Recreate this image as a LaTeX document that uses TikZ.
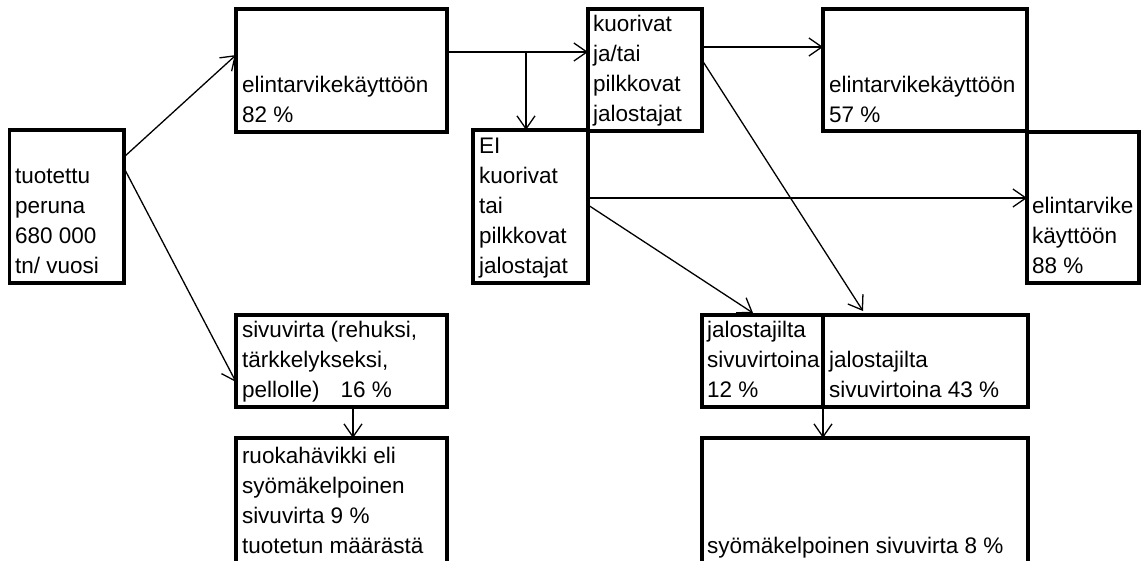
\documentclass[tikz,border=0pt]{standalone}
\usepackage{fontspec}
\setmainfont{Liberation Sans}
\usetikzlibrary{arrows.meta,calc}
\newcommand{\mltext}[1]{\begin{tabular}[t]{@{}l@{}}#1\end{tabular}}
\begin{document}
\begin{tikzpicture}[x=1pt,y=-1pt,
  font=\fontsize{22.5}{30}\selectfont,
  box/.style={draw, line width=3.8pt, inner sep=0pt, outer sep=0pt, anchor=north west},
  txt/.style={inner sep=0pt, outer sep=0pt, anchor=base west},
  arr/.style={line width=1.3pt, -{Straight Barb[length=13pt,width=18pt,line width=1.3pt]}}]
\useasboundingbox (0,0) rectangle (1142,560);
\clip (0,0) rectangle (1142,560);
% boxes
\node[box, minimum width=114.5pt, minimum height=153pt] (A) at (9.5,130) {};
\node[box, minimum width=211pt, minimum height=123pt] (B) at (236,9) {};
\node[box, minimum width=114pt, minimum height=122pt] (C) at (588,9) {};
\node[box, minimum width=115pt, minimum height=153pt] (D) at (473,130) {};
\node[box, minimum width=204pt, minimum height=122pt] (E) at (823,9) {};
\node[box, minimum width=112pt, minimum height=151pt] (F) at (1027,132) {};
\node[box, minimum width=211pt, minimum height=92pt] (G) at (236,315) {};
\node[box, minimum width=211pt, minimum height=200pt] (H) at (236,438) {};
\node[box, minimum width=121pt, minimum height=92pt] (I) at (702,315) {};
\node[box, minimum width=205pt, minimum height=92pt] (J) at (823,315) {};
\node[box, minimum width=326pt, minimum height=200pt] (K) at (702,438) {};
% texts
\node[txt] (tA) at ($(A.north west)+(5.5,53)$) {\mltext{tuotettu\\peruna\\680 000\\tn/ vuosi}};
\node[txt] (tB) at ($(B.north west)+(6,83)$) {\mltext{elintarvikekäyttöön\\82 \%}};
\node[txt] (tC) at ($(C.north west)+(5,22)$) {\mltext{kuorivat\\ja/tai\\pilkkovat\\jalostajat}};
\node[txt] (tD) at ($(D.north west)+(6,23)$) {\mltext{EI\\kuorivat\\tai\\pilkkovat\\jalostajat}};
\node[txt] (tE) at ($(E.north west)+(6,83)$) {\mltext{elintarvikekäyttöön\\57 \%}};
\node[txt] (tF) at ($(F.north west)+(5,81)$) {\mltext{elintarvike\\käyttöön\\88 \%}};
\node[txt] (tG) at ($(G.north west)+(6,22)$) {\mltext{sivuvirta (rehuksi,\\tärkkelykseksi,\\pellolle)\hspace{21pt}16 \%}};
\node[txt] (tH) at ($(H.north west)+(6,25)$) {\mltext{ruokahävikki eli\\syömäkelpoinen\\sivuvirta 9 \%\\tuotetun määrästä}};
\node[txt] (tI) at ($(I.north west)+(5,22)$) {\mltext{jalostajilta\\sivuvirtoina\\12 \%}};
\node[txt] (tJ) at ($(J.north west)+(6,52)$) {\mltext{jalostajilta\\sivuvirtoina 43 \%}};
\node[txt] (tK) at ($(K.north west)+(5,115)$) {syömäkelpoinen sivuvirta 8 \%};
% connectors
\coordinate (br) at (526,52);
\coordinate (itip) at (753,313);
\coordinate (jtip) at (863,311);
\draw[arr] (A.east |- 0,157) -- (B.west |- 0,55);
\draw[arr] (A.east |- 0,168) -- (G.west |- 0,382);
\draw[arr] (B.east |- 0,52) -- (C.west |- 0,52);
\draw[arr] (br) -- (D.north -| br);
\draw[arr] (C.east |- 0,47) -- (E.west |- 0,47);
\draw[arr] (C.east |- 0,60) -- (jtip);
\draw[arr] (D.east |- 0,198) -- (F.west |- 0,198);
\draw[arr] (D.east |- 0,205) -- (itip);
\draw[arr] (G.south -| 353,0) -- (H.north -| 353,0);
\draw[arr] (J.south west) -- (K.north -| J.south west);
\end{tikzpicture}
\end{document}
